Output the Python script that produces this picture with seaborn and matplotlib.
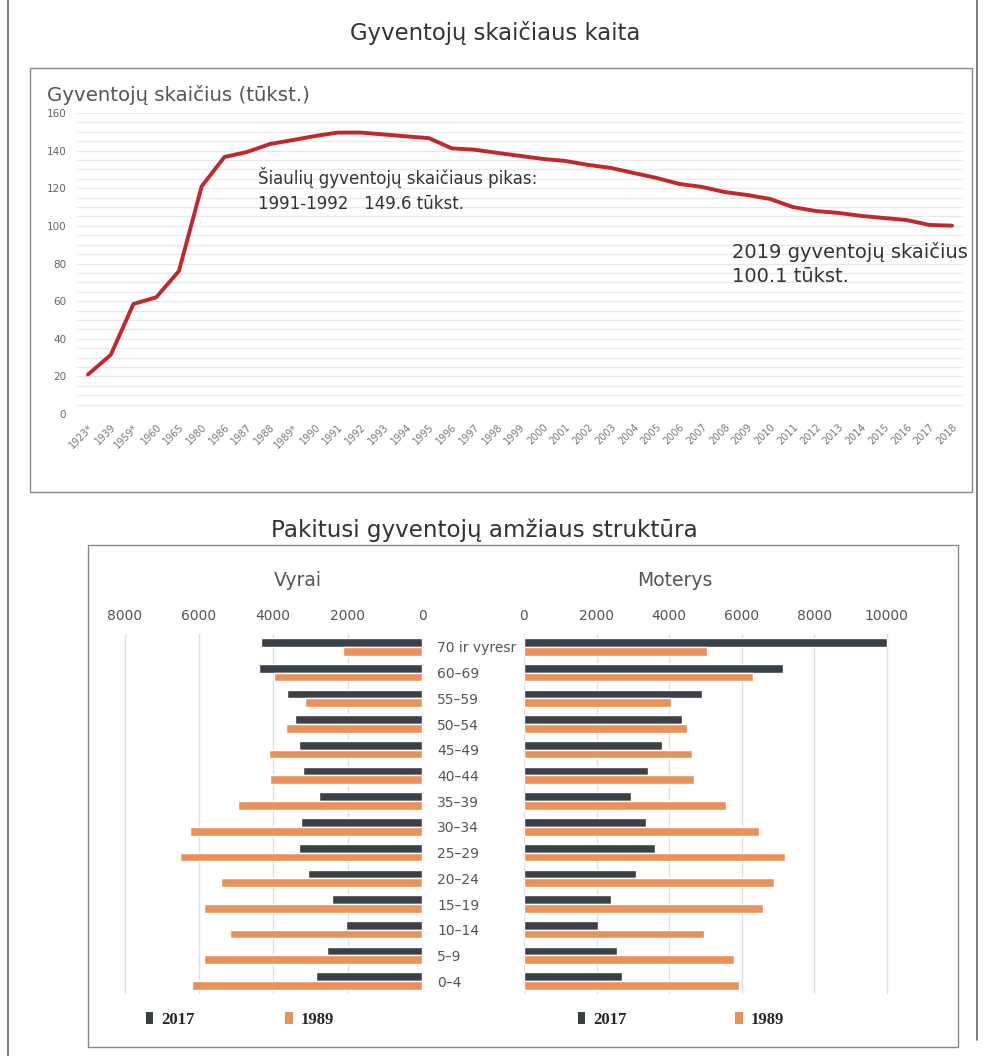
import matplotlib
matplotlib.use("Agg")
import matplotlib.pyplot as plt
import seaborn as sns
import numpy as np
import pandas as pd
from matplotlib.patches import Rectangle, Patch
from matplotlib.lines import Line2D

# ---------------- data ----------------
years = ["1923*", "1939", "1959*", "1960", "1965", "1980", "1986", "1987", "1988", "1989*",
         "1990", "1991", "1992", "1993", "1994", "1995", "1996", "1997", "1998", "1999",
         "2000", "2001", "2002", "2003", "2004", "2005", "2006", "2007", "2008", "2009",
         "2010", "2011", "2012", "2013", "2014", "2015", "2016", "2017", "2018"]
population = [21.0, 31.4, 58.5, 62.0, 76.0, 121.0, 136.6, 139.3, 143.5, 145.6,
              147.8, 149.6, 149.6, 148.6, 147.6, 146.6, 141.2, 140.5, 138.8, 137.2,
              135.6, 134.5, 132.4, 130.8, 128.1, 125.5, 122.3, 120.7, 118.0, 116.4,
              114.3, 110.0, 107.9, 106.9, 105.3, 104.2, 103.1, 100.5, 100.1]

age_groups = ["70 ir vyresr", "60–69", "55–59", "50–54", "45–49", "40–44", "35–39",
              "30–34", "25–29", "20–24", "15–19", "10–14", "5–9", "0–4"]
men_2017 = [4330, 4380, 3630, 3410, 3310, 3200, 2770, 3250, 3310, 3060, 2420, 2040, 2550, 2850]
men_1989 = [2120, 3980, 3150, 3660, 4110, 4080, 4950, 6240, 6500, 5400, 5860, 5160, 5860, 6180]
women_2017 = [10000, 7140, 4900, 4360, 3810, 3420, 2940, 3360, 3620, 3100, 2400, 2030, 2570, 2710]
women_1989 = [5055, 6300, 4050, 4500, 4630, 4690, 5570, 6490, 7200, 6880, 6600, 4970, 5780, 5920]
series_years = ["2017", "1989"]

title_top = "Gyventojų skaičiaus kaita"
ylabel_top = "Gyventojų skaičius (tūkst.)"
note_peak = "Šiaulių gyventojų skaičiaus pikas:\n1991-1992   149.6 tūkst."
note_2019 = "2019 gyventojų skaičius\n100.1 tūkst."
title_bottom = "Pakitusi gyventojų amžiaus struktūra"

# ---------------- style ----------------
sns.set_theme(style="white")
plt.rcParams["font.family"] = ["DejaVu Sans"]

W, H = 986, 1056
fig = plt.figure(figsize=(W / 100, H / 100), dpi=100)


def fx(px):
    return px / W


def fy(py):
    return 1 - py / H


LINE_RED = "#C0282D"
DARK = "#3b4046"
ORANGE = "#E8925A"
GREY_TXT = "#555555"

# frames
fig.add_artist(Line2D([fx(8), fx(8)], [0, 1], color="#666666", lw=1.2))
fig.add_artist(Line2D([fx(977), fx(977)], [fy(1040), 1], color="#666666", lw=1.2))
fig.add_artist(Rectangle((fx(30), fy(492)), fx(942), 424 / H, fill=False,
                         edgecolor="#888888", lw=1.0))
fig.add_artist(Rectangle((fx(88), fy(1047)), fx(870), 502 / H, fill=False,
                         edgecolor="#888888", lw=1.0))

# ---------------- top chart ----------------
ax = fig.add_axes([fx(76.6), fy(414), fx(963.4 - 76.6), (414 - 113) / H])
df_top = pd.DataFrame({"pos": np.arange(len(years)), "pop": population})
sns.lineplot(data=df_top, x="pos", y="pop", ax=ax, color=LINE_RED, lw=2.8)
ax.set_xlim(-0.5, len(years) - 0.5)
ax.set_ylim(0, 160)
ax.set_xticks(np.arange(len(years)))
ax.set_xticklabels(years, rotation=45, ha="right", rotation_mode="anchor",
                   fontsize=7, color="#777777")
ax.set_yticks(np.arange(0, 161, 20))
ax.set_yticklabels([str(v) for v in range(0, 161, 20)], fontsize=7.5, color="#666666")
ax.set_yticks(np.arange(0, 161, 5), minor=True)
ax.grid(True, which="both", axis="y", color="#e8e8e8", lw=0.9)
ax.set_axisbelow(True)
for s in ax.spines.values():
    s.set_visible(False)
ax.tick_params(axis="both", which="both", length=0)
ax.tick_params(axis="x", pad=6)
ax.tick_params(axis="y", pad=7.5)
ax.set_xlabel("")
ax.set_ylabel("")
ax.patch.set_alpha(0)

fig.text(fx(495), fy(33), title_top, ha="center", va="center", fontsize=16.4, color="#333333")
fig.text(fx(47), fy(95), ylabel_top, ha="left", va="center", fontsize=14.2, color=GREY_TXT)
fig.text(fx(258), fy(190), note_peak, ha="left", va="center", fontsize=12, color="#333333",
         linespacing=1.5)
fig.text(fx(732), fy(264), note_2019, ha="left", va="center", fontsize=14, color="#333333",
         linespacing=1.4)

# ---------------- bottom chart ----------------
def long_df(v2017, v1989):
    return pd.DataFrame({
        "group": age_groups * 2,
        "value": list(v2017) + list(v1989),
        "year": [series_years[0]] * len(age_groups) + [series_years[1]] * len(age_groups),
    })


palette = {series_years[0]: DARK, series_years[1]: ORANGE}

ax_top_px, ax_bot_px = 634, 994
axL = fig.add_axes([fx(106), fy(ax_bot_px), fx(422 - 106), (ax_bot_px - ax_top_px) / H])
axR = fig.add_axes([fx(524), fy(ax_bot_px), fx(905 - 524), (ax_bot_px - ax_top_px) / H])

sns.barplot(data=long_df(men_2017, men_1989), y="group", x="value", hue="year",
            hue_order=series_years, order=age_groups, palette=palette, orient="h",
            width=0.68, ax=axL, legend=False, saturation=1)
sns.barplot(data=long_df(women_2017, women_1989), y="group", x="value", hue="year",
            hue_order=series_years, order=age_groups, palette=palette, orient="h",
            width=0.68, ax=axR, legend=False, saturation=1)

axL.set_xlim(8500, 0)
axR.set_xlim(0, 10500)
for a, ticks in ((axL, [0, 2000, 4000, 6000, 8000]), (axR, [0, 2000, 4000, 6000, 8000, 10000])):
    a.set_ylim(13.5, -0.5)
    a.set_xticks(ticks)
    a.set_xticklabels([str(t) for t in ticks], fontsize=10, color=GREY_TXT)
    a.xaxis.tick_top()
    a.tick_params(axis="x", length=0, pad=8)
    a.grid(True, axis="x", color="#e0e0e0", lw=1.0)
    a.set_axisbelow(True)
    for s in a.spines.values():
        s.set_visible(False)
    a.set_xlabel("")
    a.set_ylabel("")
    a.patch.set_alpha(0)

axL.yaxis.tick_right()
axL.set_yticks(np.arange(len(age_groups)))
axL.set_yticklabels(age_groups, fontsize=10, color=GREY_TXT)
axL.tick_params(axis="y", length=0, pad=11)
axR.set_yticks([])

fig.text(fx(484), fy(530), title_bottom, ha="center", va="center", fontsize=16.6, color="#333333")
fig.text(fx(298), fy(581), "Vyrai", ha="center", va="center", fontsize=13.5, color=GREY_TXT)
fig.text(fx(675), fy(581), "Moterys", ha="center", va="center", fontsize=13.5, color=GREY_TXT)

handles = [Patch(facecolor=DARK, edgecolor="none"), Patch(facecolor=ORANGE, edgecolor="none")]
for cx, cs in ((240, 5.4), (681, 6.5)):
    fig.legend(handles, series_years, loc="center", bbox_to_anchor=(fx(cx), fy(1020)),
               ncol=2, frameon=False, handlelength=0.45, handleheight=0.7,
               handletextpad=0.5, columnspacing=cs,
               prop={"family": "Liberation Serif", "weight": "bold", "size": 12})

fig.savefig("out.png", dpi=100)
